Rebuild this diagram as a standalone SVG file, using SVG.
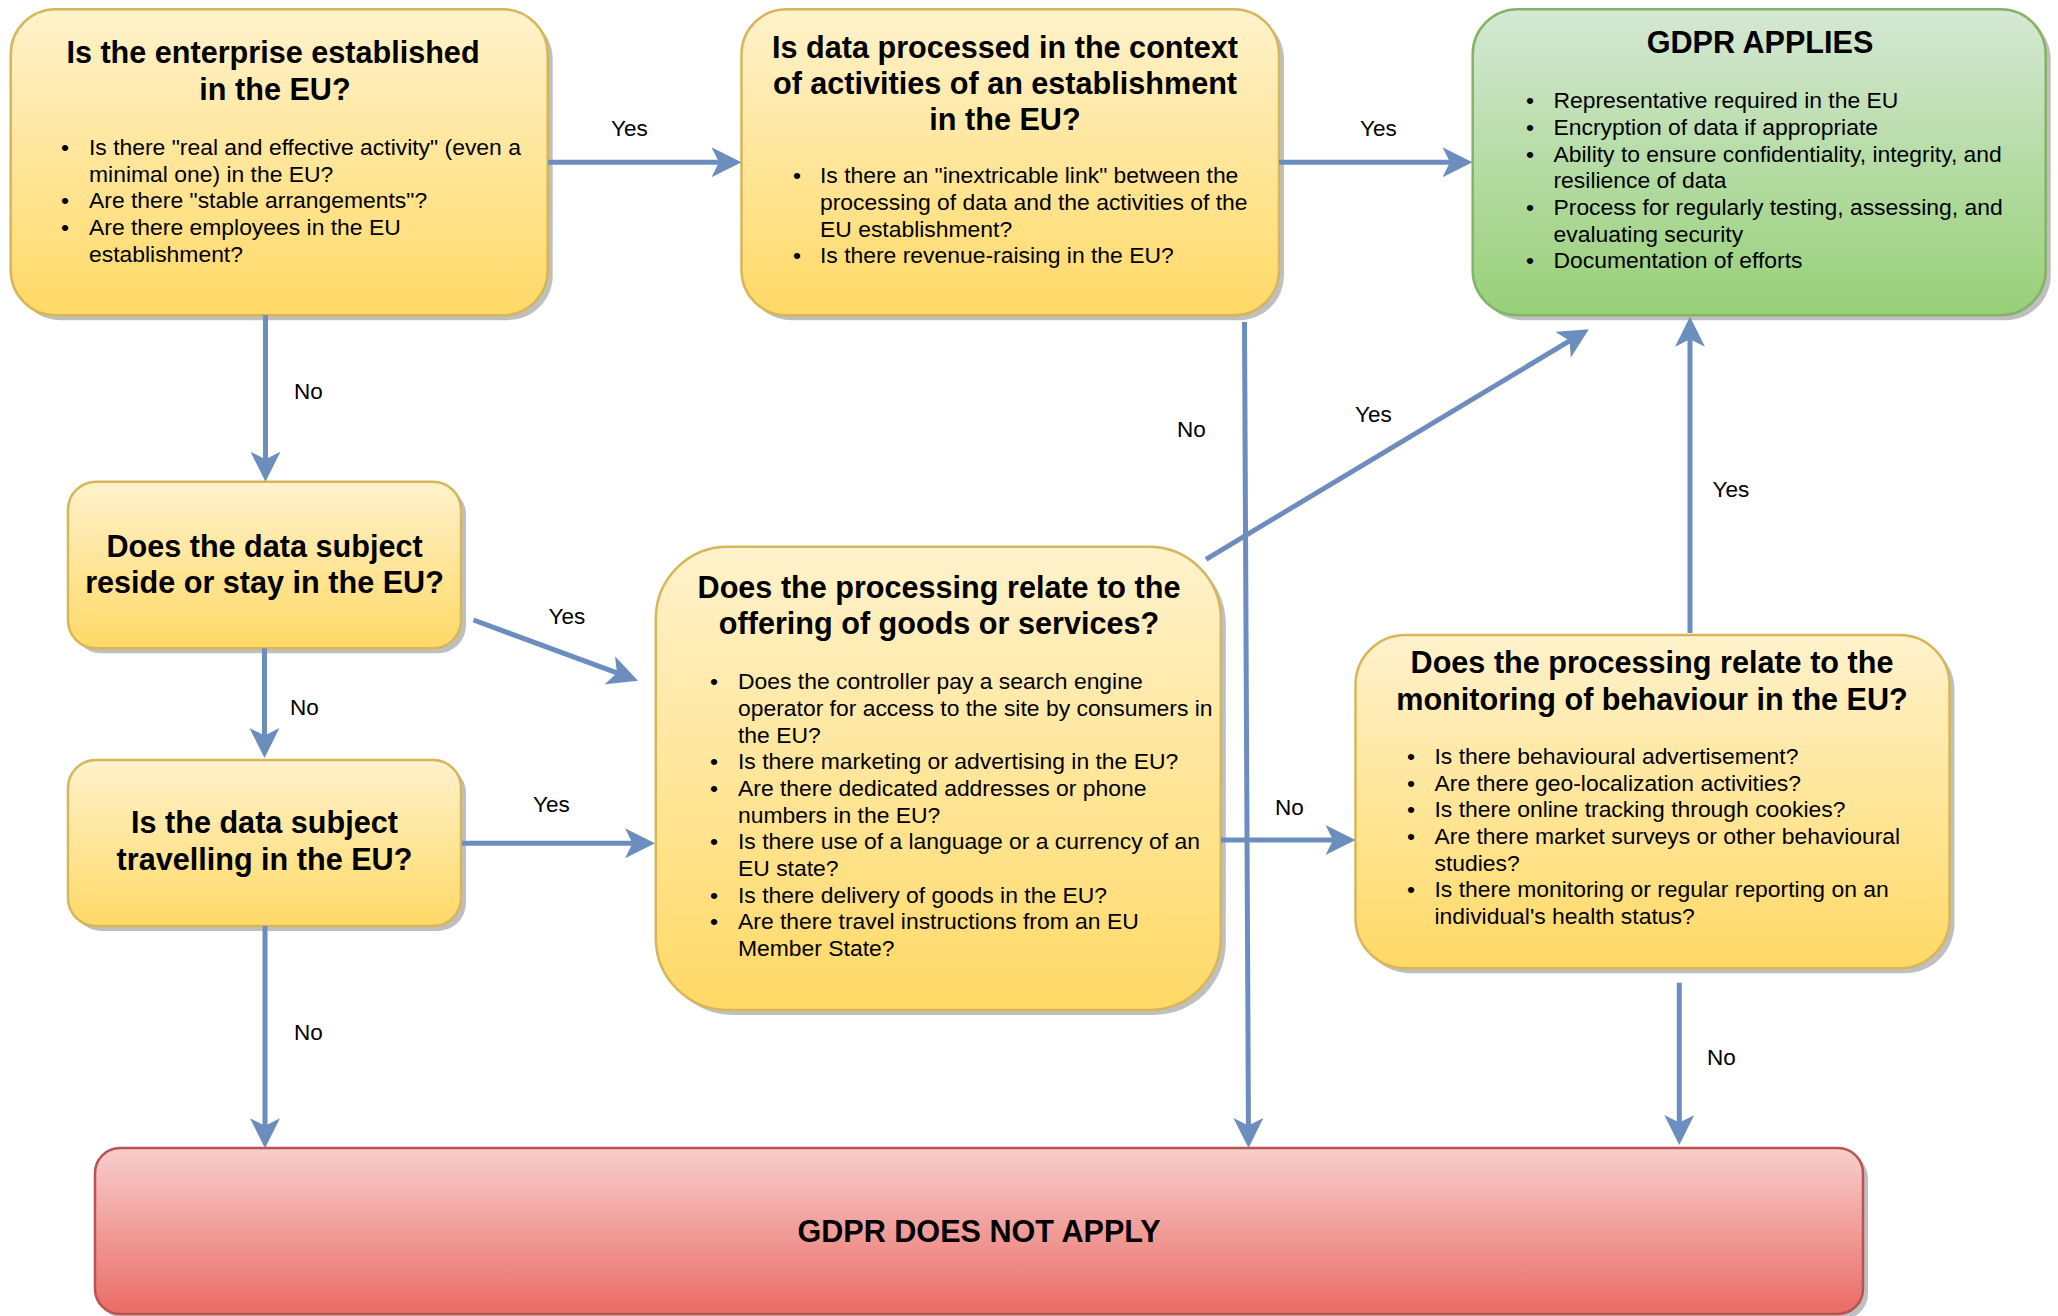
<svg xmlns="http://www.w3.org/2000/svg" width="2058" height="1316" viewBox="0 0 2058 1316">
<defs>
<linearGradient id="gY" x1="0" y1="0" x2="0" y2="1"><stop offset="0" stop-color="#fff2cc"/><stop offset="1" stop-color="#ffd966"/></linearGradient>
<linearGradient id="gG" x1="0" y1="0" x2="0" y2="1"><stop offset="0" stop-color="#d5e8d4"/><stop offset="1" stop-color="#97d077"/></linearGradient>
<linearGradient id="gR" x1="0" y1="0" x2="0" y2="1"><stop offset="0" stop-color="#f8cecc"/><stop offset="1" stop-color="#ea6b66"/></linearGradient>
<marker id="arr" markerUnits="userSpaceOnUse" viewBox="0 0 30 30" refX="22" refY="15" markerWidth="30" markerHeight="30" orient="auto"><path d="M0,0 L30,15 L0,30 L7.5,15 Z" fill="#6c8ebf"/></marker>
</defs>
<style>
.sh{fill:#bfbfbf}
.y{fill:url(#gY);stroke:#d6b656;stroke-width:2.5}
.g{fill:url(#gG);stroke:#82b366;stroke-width:2.5}
.r{fill:url(#gR);stroke:#b85450;stroke-width:2.5}
text{font-family:"Liberation Sans",Arial,Helvetica,sans-serif;fill:#000}
.t{font-size:30.6px;font-weight:bold;text-anchor:middle}
.b{font-size:22.9px}
.d{font-size:22.9px;text-anchor:middle}
.l{font-size:22.5px}
.c{fill:none;stroke:#6c8ebf;stroke-width:5;marker-end:url(#arr)}
</style>
<rect width="2058" height="1316" fill="#ffffff"/>

<g id="n-established">
<rect class="sh" x="15.7" y="14.3" width="537" height="306" rx="45"/>
<rect class="y" x="10.7" y="9.3" width="537" height="306" rx="45"/>
<text class="t" x="273" y="63">Is the enterprise established</text>
<text class="t" x="275" y="100">in the EU?</text>
<text class="d" x="65" y="155">•</text><text class="b" x="89" y="155">Is there "real and effective activity" (even a</text>
<text class="b" x="89" y="181.7">minimal one) in the EU?</text>
<text class="d" x="65" y="208.3">•</text><text class="b" x="89" y="208.3">Are there "stable arrangements"?</text>
<text class="d" x="65" y="235">•</text><text class="b" x="89" y="235">Are there employees in the EU</text>
<text class="b" x="89" y="261.7">establishment?</text>
</g>

<g id="n-context">
<rect class="sh" x="746.5" y="14.3" width="537.5" height="306" rx="45"/>
<rect class="y" x="741.5" y="9.3" width="537.5" height="306" rx="45"/>
<text class="t" x="1005" y="58.3">Is data processed in the context</text>
<text class="t" x="1005" y="94.3">of activities of an establishment</text>
<text class="t" x="1005" y="130">in the EU?</text>
<text class="d" x="797" y="183.3">•</text><text class="b" x="820" y="183.3">Is there an "inextricable link" between the</text>
<text class="b" x="820" y="210">processing of data and the activities of the</text>
<text class="b" x="820" y="236.7">EU establishment?</text>
<text class="d" x="797" y="263.3">•</text><text class="b" x="820" y="263.3">Is there revenue-raising in the EU?</text>
</g>

<g id="n-applies">
<rect class="sh" x="1477.7" y="14.3" width="573" height="306" rx="45"/>
<rect class="g" x="1472.7" y="9.3" width="573" height="306" rx="45"/>
<text class="t" x="1760" y="53.3">GDPR APPLIES</text>
<text class="d" x="1530" y="108.3">•</text><text class="b" x="1553.5" y="108.3">Representative required in the EU</text>
<text class="d" x="1530" y="135">•</text><text class="b" x="1553.5" y="135">Encryption of data if appropriate</text>
<text class="d" x="1530" y="161.7">•</text><text class="b" x="1553.5" y="161.7">Ability to ensure confidentiality, integrity, and</text>
<text class="b" x="1553.5" y="188.3">resilience of data</text>
<text class="d" x="1530" y="215">•</text><text class="b" x="1553.5" y="215">Process for regularly testing, assessing, and</text>
<text class="b" x="1553.5" y="241.7">evaluating security</text>
<text class="d" x="1530" y="268.3">•</text><text class="b" x="1553.5" y="268.3">Documentation of efforts</text>
</g>

<g id="n-reside">
<rect class="sh" x="73" y="486.7" width="393" height="166.6" rx="28"/>
<rect class="y" x="68" y="481.7" width="393" height="166.6" rx="28"/>
<text class="t" x="264.5" y="556.7">Does the data subject</text>
<text class="t" x="264.5" y="593.3">reside or stay in the EU?</text>
</g>

<g id="n-travelling">
<rect class="sh" x="73" y="765" width="393" height="166" rx="28"/>
<rect class="y" x="68" y="760" width="393" height="166" rx="28"/>
<text class="t" x="264.5" y="833.3">Is the data subject</text>
<text class="t" x="264.5" y="870">travelling in the EU?</text>
</g>

<g id="n-offering">
<rect class="sh" x="660.8" y="551.7" width="565" height="463.3" rx="72"/>
<rect class="y" x="655.8" y="546.7" width="565" height="463.3" rx="72"/>
<text class="t" x="939" y="598.3">Does the processing relate to the</text>
<text class="t" x="939" y="634">offering of goods or services?</text>
<text class="d" x="714" y="689.3">•</text><text class="b" x="738" y="689.3">Does the controller pay a search engine</text>
<text class="b" x="738" y="716">operator for access to the site by consumers in</text>
<text class="b" x="738" y="742.7">the EU?</text>
<text class="d" x="714" y="769.3">•</text><text class="b" x="738" y="769.3">Is there marketing or advertising in the EU?</text>
<text class="d" x="714" y="796">•</text><text class="b" x="738" y="796">Are there dedicated addresses or phone</text>
<text class="b" x="738" y="822.7">numbers in the EU?</text>
<text class="d" x="714" y="849.3">•</text><text class="b" x="738" y="849.3">Is there use of a language or a currency of an</text>
<text class="b" x="738" y="876">EU state?</text>
<text class="d" x="714" y="902.7">•</text><text class="b" x="738" y="902.7">Is there delivery of goods in the EU?</text>
<text class="d" x="714" y="929.3">•</text><text class="b" x="738" y="929.3">Are there travel instructions from an EU</text>
<text class="b" x="738" y="956">Member State?</text>
</g>

<g id="n-monitoring">
<rect class="sh" x="1360.5" y="640" width="594" height="333.3" rx="50"/>
<rect class="y" x="1355.5" y="635" width="594" height="333.3" rx="50"/>
<text class="t" x="1652" y="673.3">Does the processing relate to the</text>
<text class="t" x="1652" y="710">monitoring of behaviour in the EU?</text>
<text class="d" x="1411" y="764">•</text><text class="b" x="1434.5" y="764">Is there behavioural advertisement?</text>
<text class="d" x="1411" y="790.7">•</text><text class="b" x="1434.5" y="790.7">Are there geo-localization activities?</text>
<text class="d" x="1411" y="817.3">•</text><text class="b" x="1434.5" y="817.3">Is there online tracking through cookies?</text>
<text class="d" x="1411" y="844">•</text><text class="b" x="1434.5" y="844">Are there market surveys or other behavioural</text>
<text class="b" x="1434.5" y="870.7">studies?</text>
<text class="d" x="1411" y="897.3">•</text><text class="b" x="1434.5" y="897.3">Is there monitoring or regular reporting on an</text>
<text class="b" x="1434.5" y="924">individual's health status?</text>
</g>

<g id="n-notapply">
<rect class="sh" x="100" y="1153" width="1768" height="166" rx="25"/>
<rect class="r" x="95" y="1148" width="1768" height="166" rx="25"/>
<text class="t" x="979" y="1241.7">GDPR DOES NOT APPLY</text>
</g>

<g id="connectors">
<path class="c" d="M548,162.3 L733.5,162.3"/>
<text class="l" x="611" y="136">Yes</text>
<path class="c" d="M1279,162.3 L1464.5,162.3"/>
<text class="l" x="1360" y="136">Yes</text>
<path class="c" d="M265.5,315 L265.5,473.7"/>
<text class="l" x="294" y="399.3">No</text>
<path class="c" d="M264.5,648.3 L264.5,750"/>
<text class="l" x="290" y="715">No</text>
<path class="c" d="M473.5,620 L630.5,677.9"/>
<text class="l" x="548.6" y="624.3">Yes</text>
<path class="c" d="M462,843.3 L647,843.3"/>
<text class="l" x="533" y="811.7">Yes</text>
<path class="c" d="M265,926 L265,1140.3"/>
<text class="l" x="294" y="1040">No</text>
<path class="c" d="M1244.5,322 L1248.5,1140"/>
<text class="l" x="1177" y="436.7">No</text>
<path class="c" d="M1206,559.3 L1582,333.4"/>
<text class="l" x="1355" y="421.7">Yes</text>
<path class="c" d="M1221,840 L1347.5,840"/>
<text class="l" x="1275" y="815">No</text>
<path class="c" d="M1690,633 L1690,324.7"/>
<text class="l" x="1712.5" y="497.3">Yes</text>
<path class="c" d="M1679.3,982.7 L1679.3,1137"/>
<text class="l" x="1707" y="1065">No</text>
</g>
</svg>
